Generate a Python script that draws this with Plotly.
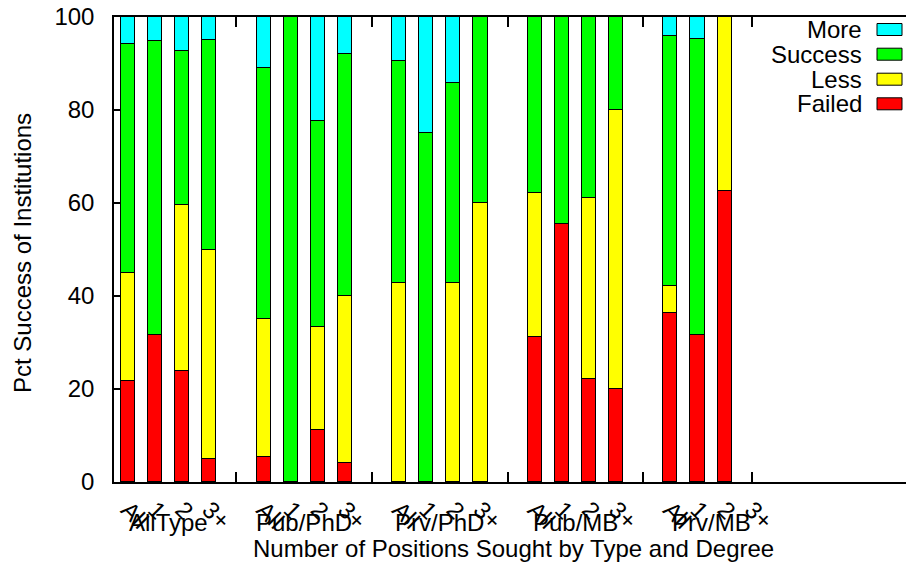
import plotly.graph_objects as go

# ---- data (percent of institutions) ----
groups = ["AllType", "Pub/PhD", "Prv/PhD", "Pub/MB", "Prv/MB"]
sizes = ["All", "1", "2", "3+"]

failed = [21.8, 31.7, 23.8, 4.9,
          5.3, 0, 11.1, 4.0,
          0, 0, 0, 0,
          31.2, 55.5, 22.2, 20.0,
          36.4, 31.7, 62.5, None]
less = [23.1, 0, 35.7, 45.1,
        29.7, 0, 22.2, 36.0,
        42.9, 0, 42.9, 60.0,
        31.0, 0, 38.9, 60.0,
        5.8, 0, 37.5, None]
success = [49.4, 63.2, 33.2, 45.0,
           54.1, 100.0, 44.4, 52.0,
           47.6, 75.0, 42.9, 40.0,
           37.8, 44.5, 38.9, 20.0,
           53.8, 63.5, 0, None]
more = [5.7, 5.1, 7.3, 5.0,
        10.9, 0, 22.3, 8.0,
        9.5, 25.0, 14.2, 0,
        0, 0, 0, 0,
        4.0, 4.8, 0, None]

series = [("Failed", failed, "#ff0000"),
          ("Less", less, "#ffff00"),
          ("Success", success, "#00ff00"),
          ("More", more, "#00ffff")]

# x positions: 4 bars per group, one empty slot between groups
xpos = [g * 5 + i for g in range(len(groups)) for i in range(len(sizes))]
xlabels = [s for g in groups for s in sizes]
group_centers = [g * 5 + 1.5 for g in range(len(groups))]
sep_ticks = [4, 9, 14, 19, 23]

FONT = "Liberation Sans, Arial, Helvetica, sans-serif"
W, H = 906, 565
ML, MR, MT, MB = 114, 0, 17, 75
PW, PH = W - ML - MR, H - MT - MB
LABEL_DROP = 8  # tick-label axis sits this many px below the value axis
Y_DOMAIN = [LABEL_DROP / PH, 1]


def pxx(p):
    return (p - ML) / PW


def pxy(p):
    return (H - MB - p) / PH


fig = go.Figure()
for name, vals, col in series:
    fig.add_trace(go.Bar(
        x=xpos, y=vals, name=name, width=0.52,
        marker=dict(color=col, line=dict(color="black", width=1)),
        showlegend=False, xaxis="x", yaxis="y"))

# invisible trace on second x axis (separator ticks + frame)
fig.add_trace(go.Scatter(x=[0], y=[0], xaxis="x2", yaxis="y",
                         mode="markers", marker=dict(opacity=0),
                         showlegend=False, hoverinfo="skip"))

xr = [-0.516, 28.69]
fig.update_layout(
    width=W, height=H,
    margin=dict(l=ML, r=MR, t=MT, b=MB, pad=0, autoexpand=False),
    paper_bgcolor="white", plot_bgcolor="white",
    barmode="stack", bargap=0,
    font=dict(family=FONT, size=24, color="black"),
    xaxis=dict(range=xr, tickmode="array", tickvals=xpos, ticktext=xlabels,
               tickangle=45, ticks="", showline=False, showgrid=False,
               zeroline=False, tickfont=dict(size=24), layer="below traces",
               automargin=False, anchor="free", position=0),
    xaxis2=dict(range=xr, overlaying="x", side="bottom", anchor="y",
                tickmode="array",
                tickvals=sep_ticks, ticks="inside", ticklen=10, tickwidth=1.5,
                tickcolor="black", showticklabels=False, showline=True,
                linecolor="black", linewidth=1.5, mirror="ticks",
                showgrid=False, zeroline=False, layer="below traces",
                automargin=False),
    yaxis=dict(range=[0, 100], domain=Y_DOMAIN, tickmode="array",
               tickvals=[0, 20, 40, 60, 80, 100], ticks="inside", ticklen=9,
               tickwidth=1.5, tickcolor="black", showline=True,
               linecolor="black", linewidth=1.5, mirror=False,
               showgrid=False, zeroline=False, ticklabelstandoff=13,
               tickfont=dict(size=24), layer="below traces",
               automargin=False),
)

annotations = []
for g, c in zip(groups, group_centers):
    annotations.append(dict(x=c, y=pxy(522), xref="x", yref="paper",
                            text=g, showarrow=False, xanchor="center",
                            yanchor="middle", font=dict(size=24)))
annotations.append(dict(x=pxx(513), y=pxy(548), xref="paper", yref="paper",
                        text="Number of Positions Sought by Type and Degree",
                        showarrow=False, xanchor="center", yanchor="middle",
                        font=dict(size=24)))
annotations.append(dict(x=pxx(22), y=pxy(253), xref="paper", yref="paper",
                        text="Pct Success of Institutions", textangle=-90,
                        showarrow=False, xanchor="center", yanchor="middle",
                        font=dict(size=24)))

# legend (text right-aligned, swatch on the right, as in the reference)
legend_rows = [("More", "#00ffff", 29.5), ("Success", "#00ff00", 54.2),
               ("Less", "#ffff00", 79.2), ("Failed", "#ff0000", 103.8)]
shapes = []
for name, col, yc in legend_rows:
    annotations.append(dict(x=pxx(864), y=pxy(yc), xref="paper", yref="paper",
                            text=name, showarrow=False, xanchor="right",
                            yanchor="middle", font=dict(size=24)))
    shapes.append(dict(type="rect", xref="paper", yref="paper",
                       x0=pxx(877), x1=pxx(902), y0=pxy(yc - 6), y1=pxy(yc + 6),
                       fillcolor=col, line=dict(color="black", width=1)))

fig.update_layout(annotations=annotations, shapes=shapes)
fig.write_html("out.html", config={"displayModeBar": False},
               post_script="document.body.style.margin='0';"
                           "document.body.style.padding='0';")
